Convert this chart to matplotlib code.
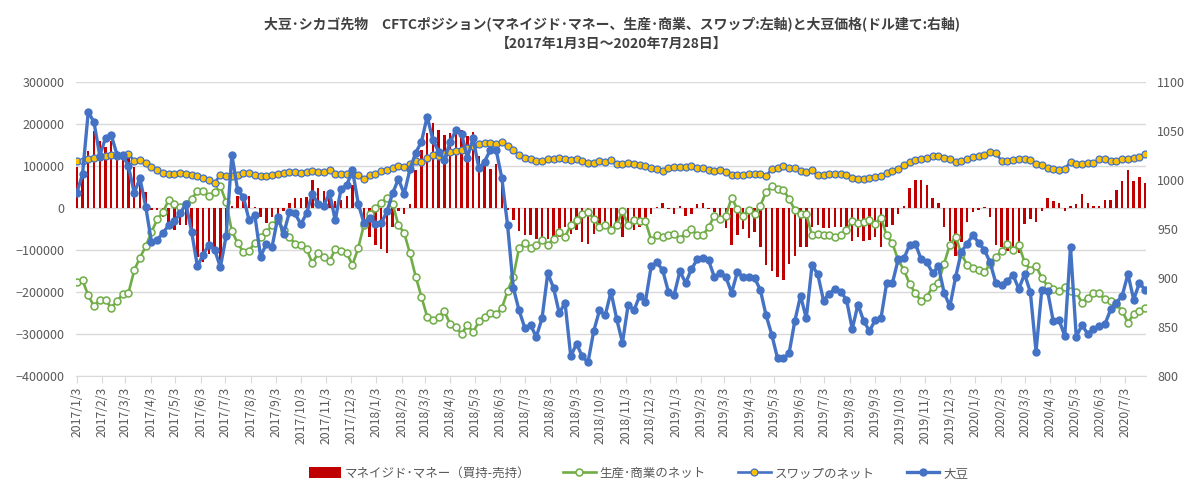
import pandas as pd
import matplotlib
matplotlib.use("Agg")
import matplotlib.pyplot as plt
import matplotlib.dates as mdates
from matplotlib.ticker import FuncFormatter

plt.rcParams['font.family'] = ['Noto Sans CJK JP', 'DejaVu Sans']

# weekly data, 2017/1/3 - 2020/7/28 (187 weeks)
dates = pd.date_range("2017-01-03", periods=187, freq="7D")

money = [
    98000, 82000, 137000, 185000, 161000, 145000, 161000, 137000, 121000, 121000,
    98000, 74000, 38000, -5000, -5000, -21000, -45000, -53000, -40000, -41000,
    -61000, -117000, -129000, -109000, -105000, -133000, -53000, 6000, 30000, 34000,
    28000, 2000, -21000, -36000, -21000, -21000, -6000, 12000, 25000, 25000,
    26000, 68000, 49000, 40000, 26000, 17000, 20000, 30000, 54000, -2000,
    -49000, -69000, -89000, -97000, -108000, -45000, -6000, -15000, 10000, 90000,
    138000, 178000, 202000, 186000, 174000, 178000, 190000, 187000, 171000, 182000,
    124000, 114000, 94000, 104000, 66000, -4000, -28000, -55000, -65000, -65000,
    -73000, -76000, -73000, -68000, -69000, -44000, -61000, -53000, -81000, -85000,
    -61000, -52000, -47000, -52000, -38000, -68000, -38000, -52000, -45000, -36000,
    -15000, 2000, 13000, -2000, -15000, 4000, -18000, -15000, 10000, 12000,
    -2000, -10000, -22000, -47000, -89000, -63000, -49000, -71000, -57000, -93000,
    -135000, -149000, -163000, -171000, -132000, -113000, -92000, -93000, -45000, -39000,
    -47000, -47000, -45000, -45000, -52000, -79000, -69000, -79000, -77000, -69000,
    -92000, -45000, -41000, -14000, 4000, 49000, 68000, 66000, 54000, 25000,
    12000, -45000, -79000, -113000, -81000, -34000, -10000, -4000, 2000, -22000,
    -89000, -92000, -101000, -92000, -108000, -38000, -26000, -34000, -6000, 25000,
    17000, 12000, -6000, 6000, 10000, 33000, 12000, 6000, 6000, 20000,
    20000, 44000, 65000, 92000, 65000, 74000, 60000,
]

commercial = [
    -176000, -172000, -208000, -234000, -218000, -220000, -237000, -222000, -205000, -202000,
    -148000, -118000, -91000, -57000, -27000, -10000, 20000, 11000, 2000, 11000,
    22000, 40000, 40000, 28000, 38000, 52000, 14000, -55000, -83000, -105000,
    -101000, -83000, -69000, -57000, -41000, -28000, -51000, -69000, -85000, -89000,
    -97000, -131000, -108000, -117000, -127000, -97000, -101000, -108000, -135000, -95000,
    -39000, -13000, 1000, 12000, 25000, 10000, -41000, -59000, -108000, -163000,
    -211000, -259000, -267000, -259000, -246000, -276000, -284000, -300000, -278000, -296000,
    -270000, -260000, -249000, -253000, -238000, -198000, -163000, -95000, -84000, -95000,
    -87000, -77000, -87000, -73000, -57000, -68000, -41000, -28000, -15000, -10000,
    -25000, -44000, -39000, -52000, -39000, -7000, -41000, -28000, -31000, -31000,
    -76000, -65000, -69000, -65000, -61000, -73000, -60000, -49000, -65000, -65000,
    -45000, -18000, -26000, -18000, 25000, -2000, -18000, -4000, -15000, 6000,
    38000, 52000, 46000, 44000, 22000, -4000, -15000, -15000, -65000, -61000,
    -63000, -63000, -69000, -65000, -52000, -31000, -36000, -34000, -28000, -38000,
    -23000, -65000, -84000, -124000, -147000, -181000, -203000, -221000, -211000, -187000,
    -178000, -132000, -87000, -68000, -109000, -135000, -143000, -147000, -153000, -133000,
    -117000, -101000, -85000, -100000, -87000, -129000, -147000, -137000, -167000, -185000,
    -193000, -197000, -189000, -198000, -201000, -225000, -213000, -203000, -203000, -217000,
    -221000, -229000, -245000, -273000, -253000, -245000, -238000,
]

swap = [
    112000, 113000, 118000, 119000, 122000, 124000, 127000, 125000, 125000, 130000,
    112000, 115000, 107000, 98000, 90000, 83000, 82000, 82000, 83000, 82000,
    80000, 76000, 72000, 68000, 60000, 80000, 76000, 76000, 78000, 83000,
    83000, 80000, 76000, 76000, 80000, 82000, 83000, 86000, 86000, 83000,
    86000, 88000, 86000, 86000, 90000, 82000, 81000, 81000, 81000, 78000,
    70000, 78000, 81000, 88000, 92000, 96000, 100000, 98000, 106000, 112000,
    110000, 120000, 126000, 124000, 130000, 134000, 136000, 138000, 144000, 147000,
    154000, 155000, 155000, 154000, 158000, 147000, 139000, 126000, 120000, 116000,
    112000, 112000, 118000, 118000, 120000, 116000, 114000, 116000, 112000, 108000,
    108000, 112000, 110000, 114000, 106000, 106000, 108000, 104000, 102000, 100000,
    96000, 94000, 88000, 96000, 98000, 98000, 98000, 100000, 96000, 96000,
    92000, 88000, 90000, 86000, 78000, 78000, 78000, 81000, 81000, 81000,
    76000, 94000, 96000, 100000, 96000, 96000, 88000, 86000, 90000, 78000,
    78000, 81000, 82000, 81000, 78000, 73000, 70000, 70000, 73000, 74000,
    76000, 84000, 88000, 94000, 102000, 110000, 114000, 118000, 120000, 124000,
    124000, 120000, 116000, 110000, 112000, 118000, 122000, 124000, 126000, 134000,
    132000, 112000, 112000, 114000, 118000, 116000, 114000, 106000, 102000, 96000,
    94000, 92000, 94000, 110000, 106000, 106000, 108000, 108000, 116000, 118000,
    112000, 112000, 116000, 118000, 120000, 122000, 130000,
]

soy = [
    987, 1006, 1070, 1059, 1025, 1043, 1046, 1026, 1026, 1014,
    987, 1002, 973, 937, 939, 946, 954, 958, 966, 976,
    947, 912, 924, 934, 929, 911, 943, 1026, 990, 983,
    959, 964, 922, 935, 932, 962, 945, 967, 966, 955,
    966, 986, 976, 974, 987, 959, 991, 995, 1010, 976,
    956, 961, 955, 956, 968, 987, 1001, 986, 1011, 1028,
    1039, 1065, 1041, 1029, 1021, 1039, 1051, 1047, 1023, 1043,
    1012, 1019, 1031, 1031, 1002, 954, 890, 867, 849, 852,
    840, 859, 905, 890, 864, 875, 820, 833, 820, 814,
    846, 867, 862, 886, 858, 834, 873, 867, 882, 876,
    912, 916, 908, 886, 883, 907, 895, 909, 919, 921,
    918, 901, 905, 901, 885, 906, 901, 901, 900, 888,
    862, 842, 818, 818, 823, 856, 882, 859, 913, 904,
    877, 884, 889, 886, 878, 848, 873, 856, 846, 857,
    859, 895, 895, 919, 920, 934, 935, 919, 916, 905,
    912, 885, 871, 901, 927, 935, 944, 936, 929, 916,
    895, 893, 897, 903, 889, 904, 886, 825, 888, 887,
    856, 857, 841, 932, 840, 852, 843, 848, 851, 853,
    868, 875, 882, 904, 878, 895, 888,
]

grey = "#595959"
fig = plt.figure(figsize=(12, 4.97), dpi=100)
ax = fig.add_axes([0.0633, 0.2435, 0.8917, 0.591])

bars = ax.bar(dates, money, width=3, color="#C00000", zorder=2,
              label="マネイジド･マネー（買持-売持）")
l_com, = ax.plot(dates, commercial, color="#70AD47", lw=1.9, marker="o", ms=5,
                 mfc="#F8F8F8", mec="#70AD47", mew=1.1, zorder=3, label="生産･商業のネット")
l_swap, = ax.plot(dates, swap, color="#4472C4", lw=1.9, marker="o", ms=5,
                  mfc="#FFC000", mec="#4472C4", mew=0.9, zorder=4, label="スワップのネット")

ax2 = ax.twinx()
l_soy, = ax2.plot(dates, soy, color="#4472C4", lw=2.4, marker="o", ms=5,
                  mfc="#4472C4", mec="#4472C4", label="大豆")

ax.set_ylim(-400000, 300000)
ax.set_yticks(range(-400000, 300001, 100000))
ax2.set_ylim(800, 1100)
ax2.set_yticks(range(800, 1101, 50))
ax.set_xlim(pd.Timestamp("2017-01-02"), pd.Timestamp("2020-07-29"))

ax.grid(axis="y", color="#D9D9D9", lw=1)
ax.set_axisbelow(True)
for a in (ax, ax2):
    for s in ("top", "left", "right", "bottom"):
        a.spines[s].set_visible(False)
ax.spines["bottom"].set_visible(True)
ax.spines["bottom"].set_color("#D9D9D9")

ax.xaxis.set_major_locator(mdates.MonthLocator(bymonthday=3))
ax.xaxis.set_major_formatter(FuncFormatter(
    lambda v, p: "{0.year}/{0.month}/{0.day}".format(mdates.num2date(v))))
ax.tick_params(axis="x", rotation=90, labelsize=8.8, labelcolor=grey,
               color="#D9D9D9", length=5, pad=3)
ax.tick_params(axis="y", length=0, labelsize=9, labelcolor=grey, pad=8)
ax2.tick_params(axis="y", length=0, labelsize=9, labelcolor=grey, pad=8)

fig.text(0.51, 0.953, "大豆･シカゴ先物　CFTCポジション(マネイジド･マネー、生産･商業、スワップ:左軸)と大豆価格(ドル建て:右軸)",
         ha="center", va="center", fontsize=10, fontweight="bold", color="#404040")
fig.text(0.51, 0.912, "【2017年1月3日～2020年7月28日】",
         ha="center", va="center", fontsize=10, fontweight="bold", color="#404040")

fig.legend([bars, l_com, l_swap, l_soy],
           [bars.get_label(), l_com.get_label(), l_swap.get_label(), l_soy.get_label()],
           loc="center", bbox_to_anchor=(0.532, 0.048), ncol=4,
           frameon=False, fontsize=9, labelcolor=grey, handlelength=2.6,
           handleheight=0.9, columnspacing=2.6, handletextpad=0.3)

fig.savefig("out.png", dpi=100)
